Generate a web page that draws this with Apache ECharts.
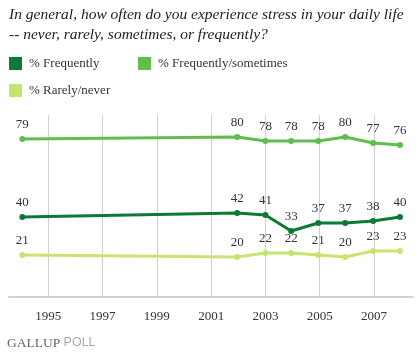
<!DOCTYPE html>
<html><head><meta charset="utf-8">
<script src="https://cdn.jsdelivr.net/npm/echarts@6/dist/echarts.min.js"></script>
<style>html,body{margin:0;padding:0;background:#fff}#c{width:420px;height:356px}</style>
</head><body><div id="c"></div>
<script>
var years = [1994.04, 2001.96, 2003.0, 2003.95, 2004.95, 2005.94, 2006.97, 2007.96];
var tickYears = [1995, 1997, 1999, 2001, 2003, 2005, 2007];
var frequently = [40, 42, 41, 33, 37, 37, 38, 40];
var freqSometimes = [79, 80, 78, 78, 78, 80, 77, 76];
var rarelyNever = [21, 20, 22, 22, 21, 20, 23, 23];
var names = ['% Frequently', '% Frequently/sometimes', '% Rarely/never'];
var colors = ['#0b7a35', '#5fbe4c', '#c8e470'];
var serif = '"Liberation Serif", "Times New Roman", serif';

function pairs(v){ return years.map(function(x,i){ return [x, v[i]]; }); }
function mk(name, vals, color){
  return {
    name: name, type: 'line', data: pairs(vals),
    symbol: 'circle', symbolSize: 6, showSymbol: true,
    lineStyle: {color: color, width: 3},
    itemStyle: {color: color},
    label: {show: true, position: 'top', distance: 5, color: '#333', fontFamily: serif, fontSize: 13},
    emphasis: {disabled: true}, animation: false
  };
}
function lg(name, left, top){
  return {data: [name], left: left, top: top, icon: 'rect', itemWidth: 13, itemHeight: 13,
    padding: 0, textStyle: {fontFamily: serif, fontSize: 13, color: '#333', padding: [0,0,0,2]}, selectedMode: false};
}
var chart = echarts.init(document.getElementById('c'));
chart.setOption({
  animation: false,
  title: {text: 'In general, how often do you experience stress in your daily life\n-- never, rarely, sometimes, or frequently?',
    left: 9, top: 5, padding: 0,
    textStyle: {fontFamily: serif, fontStyle: 'italic', fontWeight: 'normal', fontSize: 15.5, color: '#222', lineHeight: 20}},
  color: colors,
  legend: [lg(names[0], 9, 57), lg(names[1], 138, 57), lg(names[2], 9, 84)],
  grid: {left: 9, right: 7, top: 115, bottom: 59, containLabel: false},
  xAxis: {type: 'value', min: 1993.55, max: 2008.44,
    axisLine: {show: true, lineStyle: {color: '#d2d2d2', width: 2}},
    axisTick: {show: false, customValues: tickYears},
    axisLabel: {customValues: tickYears, margin: 13, color: '#333', fontFamily: serif, fontSize: 13, formatter: function(v){return String(v);}},
    splitLine: {show: true, lineStyle: {color: '#cfcfcf', width: 1}}},
  yAxis: {type: 'value', min: 0, max: 91, show: false, splitLine: {show: false}},
  series: [mk(names[0], frequently, colors[0]), mk(names[1], freqSometimes, colors[1]), mk(names[2], rarelyNever, colors[2])],
  graphic: [{type: 'text', left: 7, top: 336, style: {
    text: '{a|GALLUP} {b|POLL}',
    rich: {a: {fontFamily: serif, fontSize: 13.5, fill: '#666'}, b: {fontFamily: '"Liberation Sans", Arial, sans-serif', fontSize: 12.5, fill: '#aaa'}}}}]
});
</script></body></html>
